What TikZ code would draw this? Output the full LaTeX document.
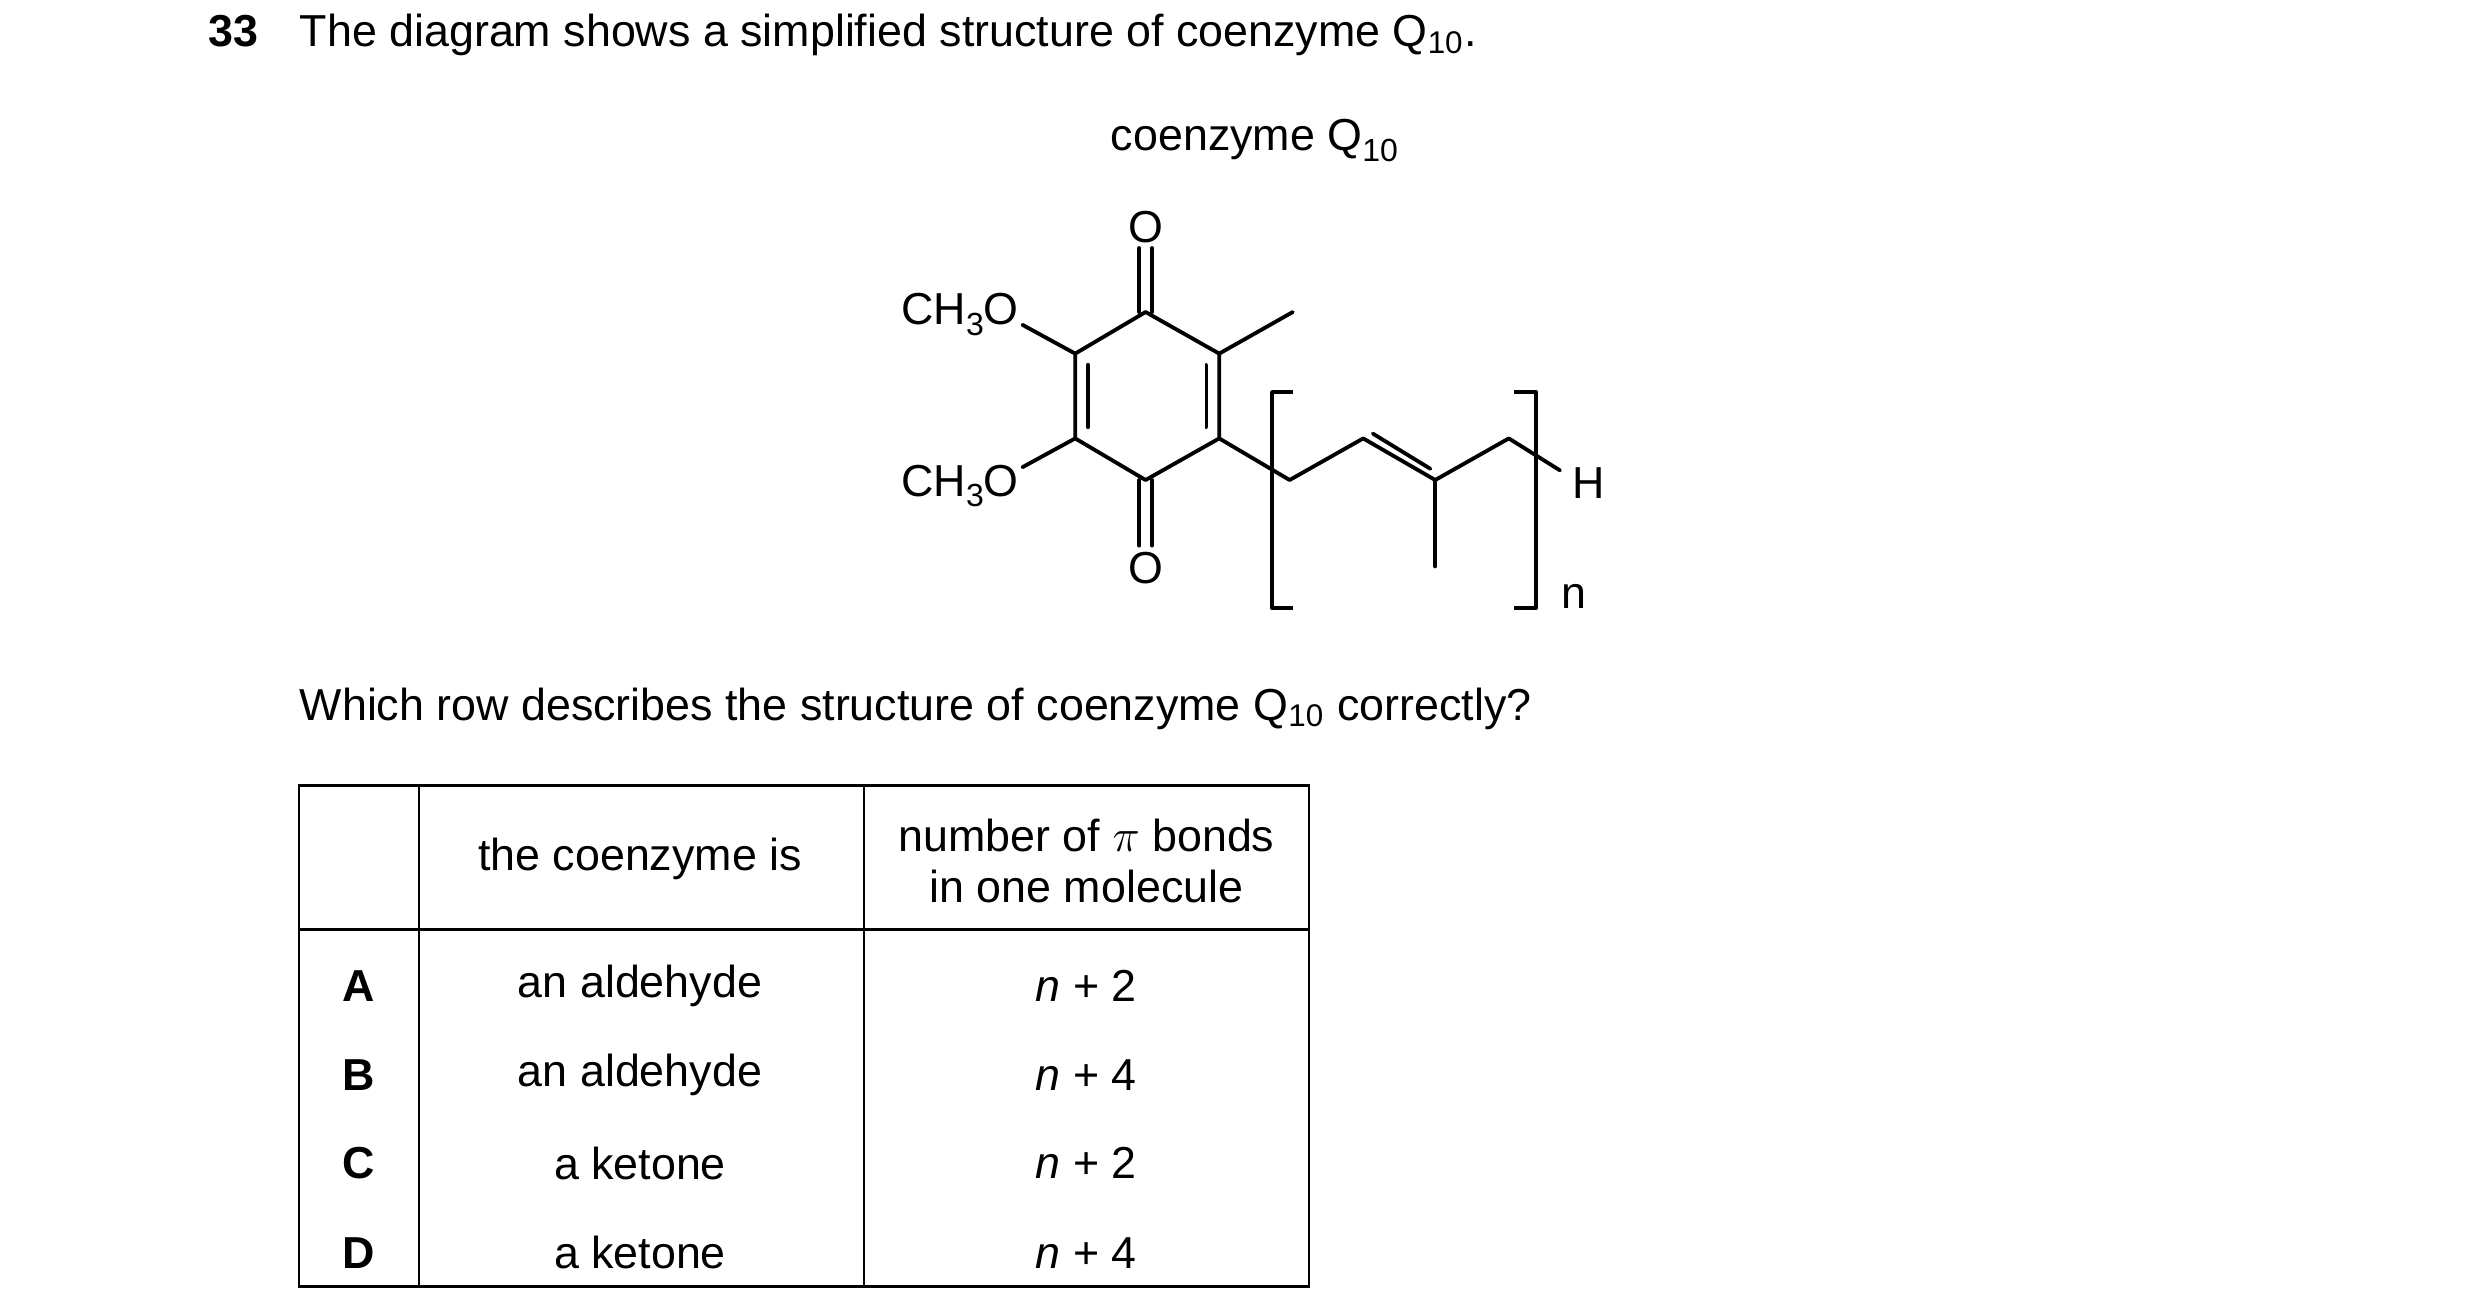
\documentclass[tikz,border=0pt]{standalone}
\usepackage{fontspec}
\setmainfont{Liberation Sans}
\newcommand{\chsub}[1]{\raisebox{-0.45ex}{\fontsize{10}{10}\selectfont #1}}
\begin{document}
\begin{tikzpicture}[x=0.5pt,y=-0.5pt,
  bond/.style={line width=1.2pt,line cap=round,line join=round},
  grid/.style={line width=0.8pt},
  txt/.style={font=\fontsize{14}{16}\selectfont,inner sep=0pt},
  lbl/.style={font=\fontsize{14}{15}\selectfont,inner sep=0pt}]
\useasboundingbox (0,0) rectangle (1550,820.6);
% title
\node[txt,anchor=base west] (num) at (130,29) {\textbf{33}};
\node[txt,anchor=base west] (title) at (187,29) {The diagram shows a simplified structure of coenzyme Q\textsubscript{10}.};
\node[txt,anchor=base] (name) at (784,94) {coenzyme Q\chsub{10}};
% ring
\coordinate (T) at (716,195); \coordinate (UL) at (672,221); \coordinate (LL) at (672,274);
\coordinate (B) at (716,300); \coordinate (LR) at (762,274); \coordinate (UR) at (762,221);
\draw[bond] (T)--(UL)--(LL)--(B)--(LR)--(UR)--cycle;
\draw[bond] (680,228)--(680,267);
\draw[bond] (754,228)--(754,267);
\node[lbl] (Ot) at (716,142) {O};
\node[lbl] (Ob) at (716,355) {O};
\draw[bond] (712,155)--(712,195) (720,155)--(720,195);
\draw[bond] (712,300)--(712,341) (720,300)--(720,341);
\coordinate (Me) at (808,195);
\draw[bond] (UR)--(Me);
\node[lbl,anchor=base west] (m1) at (563,203) {CH\chsub{3}O};
\node[lbl,anchor=base west] (m2) at (563,310) {CH\chsub{3}O};
\draw[bond] (639,203)--(UL);
\draw[bond] (639,292)--(LL);
% chain
\coordinate (c1) at (806,300); \coordinate (c2) at (852,274); \coordinate (c3) at (897,300);
\coordinate (c4) at (943,274); \coordinate (hb) at (975,294); \coordinate (cm) at (897,354);
\draw[bond] (LR)--(c1)--(c2)--(c3)--(c4)--(hb);
\draw[bond] (858,271)--(894,293);
\draw[bond] (c3)--(cm);
\node[lbl] (H) at (993,302) {H};
\node[lbl] (n) at (984,373) {n};
% brackets
\draw[bond,line cap=butt] (808,245)--(795,245)--(795,380)--(808,380);
\draw[bond,line cap=butt] (946,245)--(960,245)--(960,380)--(946,380);
% question
\node[txt,anchor=base west] (q) at (187,450) {Which row describes the structure of coenzyme Q\textsubscript{10} correctly?};
% table
\draw[grid] (187,491) rectangle (818,804);
\draw[grid] (262,491)--(262,804) (540,491)--(540,804) (187,581)--(818,581);
\node[txt] (h1) at (400,537) {the coenzyme is};
\node[txt,align=center] (h2) at (679,538) {number of $\pi$ bonds\\in one molecule};
\foreach \l/\a/\b/\y in {A/an aldehyde/2/616, B/an aldehyde/4/672, C/a ketone/2/727, D/a ketone/4/783}{
  \node[txt] (L\l) at (224,\y) {\textbf{\l}};
  \node[txt] (S\l) at (400,\y) {\a};
  \node[txt] (N\l) at (679,\y) {\textit{n} + \b};
}
\end{tikzpicture}
\end{document}
